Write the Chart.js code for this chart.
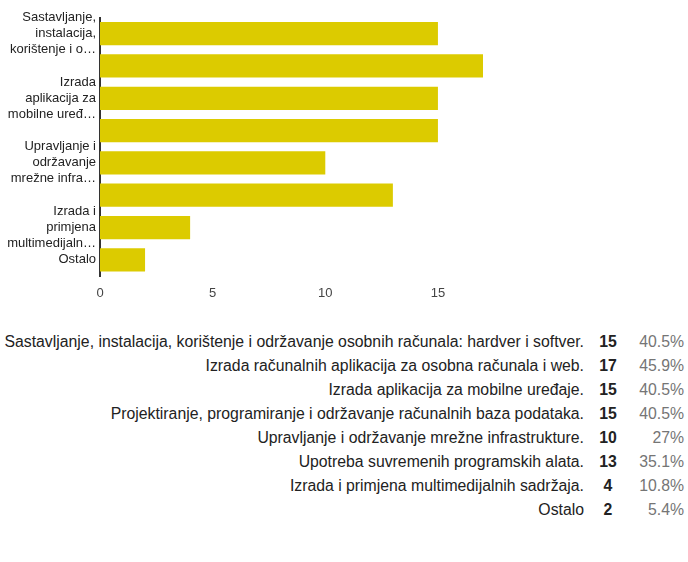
<!DOCTYPE html>
<html>
<head>
<meta charset="utf-8">
<script src="https://cdn.jsdelivr.net/npm/chart.js@4.4.0/dist/chart.umd.min.js"></script>
<style>
    body { margin: 0; background: #fff; font-family: 'Liberation Sans', Arial, sans-serif; }
    #wrap { position: absolute; left: 0; top: 0; width: 688px; height: 310px; }
    #summary { position: absolute; left: 0; top: 330px; border-collapse: collapse; font-size: 15.8px; table-layout: fixed; width: 684px; }
    #summary td { padding: 0; height: 24px; line-height: 24px; white-space: nowrap; }
    #summary td.name { width: 584px; text-align: right; color: #222; }
    #summary td.count { width: 48px; text-align: center; font-weight: bold; color: #222; }
    #summary td.pct { width: 52px; text-align: right; color: #757575; }
</style>
</head>
<body>
<div id="wrap"><canvas id="chart"></canvas></div>
<table id="summary"></table>
<script>
/* ---- data ---- */
const categories = [
    'Sastavljanje, instalacija, korištenje i održavanje osobnih računala: hardver i softver.',
    'Izrada računalnih aplikacija za osobna računala i web.',
    'Izrada aplikacija za mobilne uređaje.',
    'Projektiranje, programiranje i održavanje računalnih baza podataka.',
    'Upravljanje i održavanje mrežne infrastrukture.',
    'Upotreba suvremenih programskih alata.',
    'Izrada i primjena multimedijalnih sadržaja.',
    'Ostalo',
];
const counts = [15, 17, 15, 15, 10, 13, 4, 2];
const percents = ['40.5%', '45.9%', '40.5%', '40.5%', '27%', '35.1%', '10.8%', '5.4%'];

// axis labels as shown (every other one, wrapped and cut)
const axisLabels = [
    ['Sastavljanje,', 'instalacija,', 'korištenje i o…'],
    '',
    ['Izrada', 'aplikacija za', 'mobilne uređ…'],
    '',
    ['Upravljanje i', 'održavanje', 'mrežne infra…'],
    '',
    ['Izrada i', 'primjena', 'multimedijaln…'],
    'Ostalo',
];
const xTicks = [0, 5, 10, 15];

const barColor = '#dccb00';
const font = "'Liberation Sans', Arial, sans-serif";

new Chart(document.getElementById('chart'), {
    type: 'bar',
    data: {
        labels: categories,
        datasets: [{
            data: counts,
            backgroundColor: barColor,
            borderWidth: 0,
            barPercentage: 0.72,
            categoryPercentage: 1,
        }],
    },
    options: {
        indexAxis: 'y',
        responsive: true,
        maintainAspectRatio: false,
        animation: false,
        layout: { padding: { top: 17.5, right: 205, left: 0, bottom: 0 } },
        plugins: { legend: { display: false }, tooltip: { enabled: false } },
        scales: {
            x: {
                min: 0,
                max: 17,
                grid: { display: false, drawTicks: false },
                border: { display: false },
                afterBuildTicks: axis => {
                    axis.ticks = xTicks.map(v => ({ value: v }));
                },
                afterFit: scale => { scale.height = 34; },
                ticks: {
                    padding: 10,
                    color: '#444',
                    font: { family: font, size: 13 },
                },
            },
            y: {
                grid: { display: false, drawTicks: false },
                border: { display: true, color: '#333', width: 2 },
                afterFit: scale => { scale.width = 100; },
                ticks: {
                    autoSkip: false,
                    padding: 4,
                    color: '#222',
                    font: { family: font, size: 13, lineHeight: '16px' },
                    callback: (v, i) => axisLabels[i],
                },
            },
        },
    },
});

/* ---- summary table ---- */
const table = document.getElementById('summary');
categories.forEach((name, i) => {
    const tr = document.createElement('tr');
    tr.innerHTML = '<td class="name"></td><td class="count"></td><td class="pct"></td>';
    tr.children[0].textContent = name;
    tr.children[1].textContent = counts[i];
    tr.children[2].textContent = percents[i];
    table.appendChild(tr);
});
</script>
</body>
</html>
